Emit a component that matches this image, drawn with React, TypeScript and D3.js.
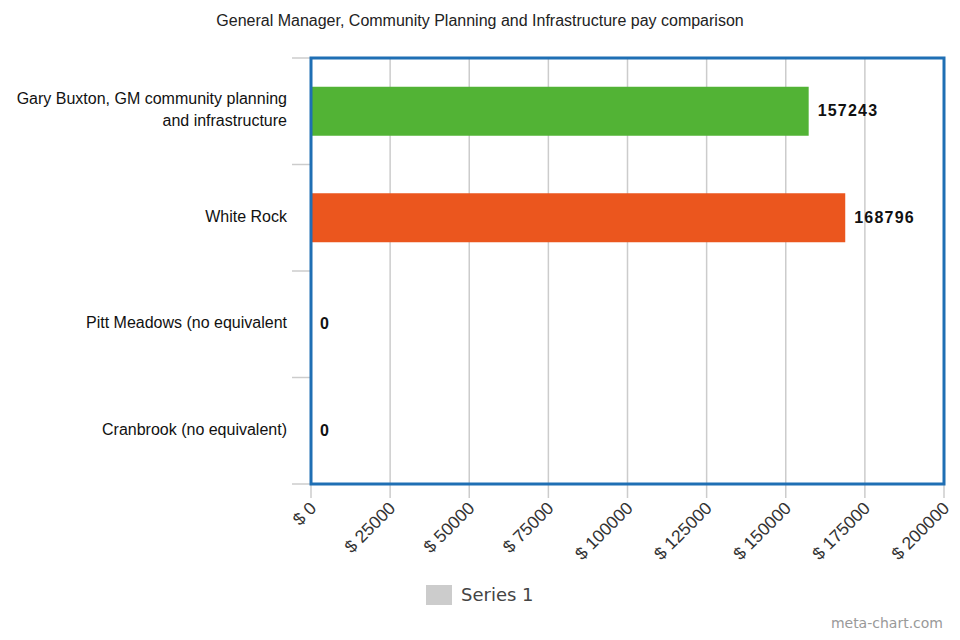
import React from 'react';
import * as d3 from 'd3';

const categories = [
  'Gary Buxton, GM community planning|and infrastructure',
  'White Rock',
  'Pitt Meadows (no equivalent',
  'Cranbrook (no equivalent)',
];
const pay = [157243, 168796, 0, 0];
const barColors = ['#52b335', '#eb561e', '#52b335', '#52b335'];
const xTicks = [0, 25000, 50000, 75000, 100000, 125000, 150000, 175000, 200000];

const App = () => {
  const width = 960;
  const height = 640;
  const margin = { top: 58, right: 16, bottom: 156, left: 311 };
  const blue = '#1f6fb4';
  const grid = '#cccccc';

  const xScale = d3
    .scaleLinear()
    .domain([0, 200000])
    .range([margin.left, width - margin.right]);

  const yScale = d3
    .scaleBand()
    .domain(categories)
    .range([margin.top, height - margin.bottom])
    .paddingInner(0)
    .paddingOuter(0);

  const band = yScale.bandwidth();
  const barH = band * 0.46;
  const bottom = height - margin.bottom;
  const font = 'Arial, "Liberation Sans", sans-serif';

  return (
    <svg
      width={width}
      height={height}
      viewBox={`0 0 ${width} ${height}`}
      style={{ position: 'absolute', left: 0, top: 0, background: '#fff' }}
    >
      <text x={480} y={26} textAnchor='middle' fontFamily={font} fontSize='16' fill='#222'>
        General Manager, Community Planning and Infrastructure pay comparison
      </text>

      {xTicks.map(t => (
        <g key={`x-${t}`}>
          <line x1={xScale(t)} x2={xScale(t)} y1={margin.top} y2={bottom + 14} stroke={grid} strokeWidth='1.5' />
          <text
            transform={`translate(${xScale(t) + 3}, ${bottom + 22}) rotate(-45)`}
            textAnchor='end'
            dominantBaseline='middle'
            fontFamily={font}
            fontSize='17.5'
            fill='#333'
          >
            {`$ ${t}`}
          </text>
        </g>
      ))}

      {categories.map((c, i) => (
        <line
          key={`yt-${i}`}
          x1={margin.left - 19}
          x2={margin.left}
          y1={yScale(c)}
          y2={yScale(c)}
          stroke={grid}
          strokeWidth='1.5'
        />
      ))}
      <line x1={margin.left - 19} x2={margin.left} y1={bottom} y2={bottom} stroke={grid} strokeWidth='1.5' />

      {categories.map((c, i) => {
        const yc = (yScale(c) as number) + band / 2;
        const w = xScale(pay[i]) - xScale(0);
        const lines = c.split('|');
        return (
          <g key={`bar-${i}`}>
            {w > 0 && <rect x={xScale(0)} y={yc - barH / 2} width={w} height={barH} fill={barColors[i]} />}
            <text
              x={xScale(pay[i]) + 9}
              y={yc + 1}
              dominantBaseline='middle'
              fontFamily={font}
              fontSize='16'
              fontWeight='bold'
              letterSpacing='1.2'
              fill='#111'
            >
              {pay[i]}
            </text>
            {lines.map((l, j) => (
              <text
                key={j}
                x={287}
                y={yc + (j - (lines.length - 1) / 2) * 22}
                textAnchor='end'
                dominantBaseline='middle'
                fontFamily={font}
                fontSize='16'
                fill='#111'
              >
                {l}
              </text>
            ))}
          </g>
        );
      })}

      <rect
        x={margin.left}
        y={margin.top}
        width={width - margin.right - margin.left}
        height={bottom - margin.top}
        fill='none'
        stroke={blue}
        strokeWidth='3'
      />

      <rect x={426} y={585} width={26} height={20} fill='#cccccc' />
      <text x={461} y={596} dominantBaseline='middle' fontFamily='"DejaVu Sans", sans-serif' fontSize='18' fill='#444'>
        Series 1
      </text>
      <text x={943} y={628} textAnchor='end' fontFamily='"DejaVu Sans", sans-serif' fontSize='14' fill='#999'>
        meta-chart.com
      </text>
    </svg>
  );
};

export default App;
